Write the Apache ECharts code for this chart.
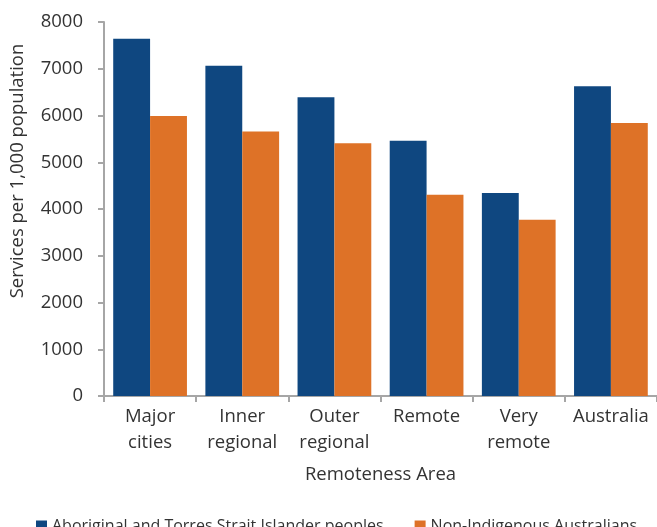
<!DOCTYPE html>
<html><head><meta charset="utf-8">
<script src="https://cdn.jsdelivr.net/npm/echarts@6/dist/echarts.min.js"></script>
<style>html,body{margin:0;padding:0;background:#fff}#c{width:657px;height:527px}</style>
</head><body><div id="c"></div>
<script>
const categories = ['Major\ncities', 'Inner\nregional', 'Outer\nregional', 'Remote', 'Very\nremote', 'Australia'];
const indigenous = [7640, 7065, 6390, 5460, 4340, 6625];
const nonIndigenous = [5990, 5660, 5405, 4305, 3770, 5840];
const seriesNames = ['Aboriginal and Torres Strait Islander peoples', 'Non-Indigenous Australians'];
const yTicks = { min: 0, max: 8000, interval: 1000 };

const font = 'Open Sans';
const txt = '#333333';
const axisColor = '#A6A6A6';
const chart = echarts.init(document.getElementById('c'), null, { renderer: 'canvas' });
chart.setOption({
  animation: false,
  textStyle: { fontFamily: font },
  grid: { left: 104, top: 22, width: 556, height: 374, containLabel: false },
  legend: {
    left: 31, top: 513, itemWidth: 11, itemHeight: 11, itemGap: 31,
    icon: 'rect',
    textStyle: { fontFamily: font, fontSize: 16, color: txt },
    data: seriesNames
  },
  xAxis: {
    type: 'category', data: categories,
    name: 'Remoteness Area', nameLocation: 'middle', nameGap: 69,
    nameTextStyle: { fontFamily: font, fontSize: 18.5, color: txt },
    axisLine: { lineStyle: { color: axisColor, width: 2 } },
    axisTick: { show: true, length: 6, lineStyle: { color: axisColor, width: 2 } },
    axisLabel: { fontFamily: font, fontSize: 18.5, color: txt, margin: 8, lineHeight: 26, interval: 0 }
  },
  yAxis: {
    type: 'value', min: yTicks.min, max: yTicks.max, interval: yTicks.interval,
    name: 'Services per 1,000 population', nameLocation: 'middle', nameGap: 77,
    nameTextStyle: { fontFamily: font, fontSize: 18.5, color: txt, padding: [0, 0, 0, 76] },
    axisLine: { show: true, lineStyle: { color: axisColor, width: 2 } },
    axisTick: { show: true, length: 6, lineStyle: { color: axisColor, width: 2 } },
    splitLine: { show: false },
    axisLabel: { fontFamily: font, fontSize: 18.5, color: txt, margin: 21, formatter: v => String(v) }
  },
  series: [
    { name: seriesNames[0], type: 'bar', data: indigenous, barGap: '0%', barCategoryGap: '20%',
      itemStyle: { color: '#0F4780' } },
    { name: seriesNames[1], type: 'bar', data: nonIndigenous, barGap: '0%', barCategoryGap: '20%',
      itemStyle: { color: '#DE7227' } }
  ]
});
</script></body></html>
